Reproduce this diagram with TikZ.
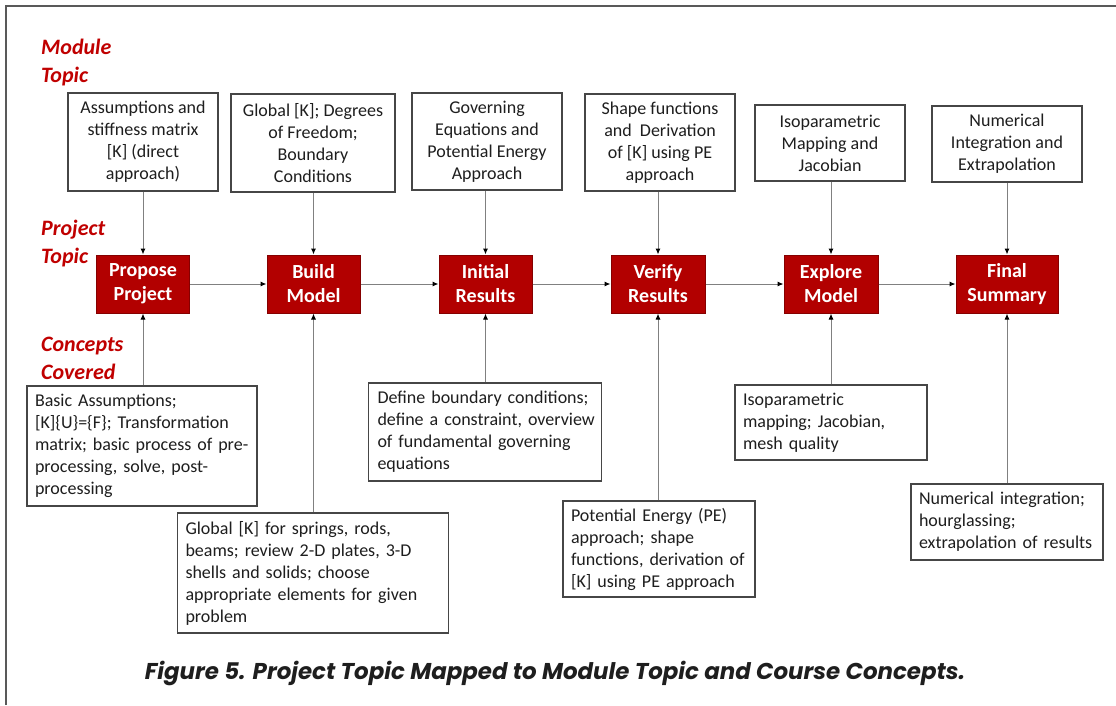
\documentclass[tikz,border=0pt]{standalone}
\usepackage{fontspec}
\setmainfont{Carlito}
\newfontfamily\capfont{Poppins}
\usetikzlibrary{arrows.meta}
\definecolor{boxred}{RGB}{178,0,0}
\definecolor{labred}{RGB}{192,0,0}
\definecolor{linegray}{RGB}{128,128,128}
\definecolor{bordergray}{RGB}{70,70,70}
\definecolor{txt}{RGB}{30,30,30}
\begin{document}
\begin{tikzpicture}[x=1pt,y=-1pt,
  topbox/.style={draw=bordergray, line width=1.2pt, fill=white, align=center, inner sep=0pt, text=txt, font=\fontsize{18}{22}\selectfont},
  botbox/.style={draw=bordergray, line width=1.2pt, fill=white, align=left, inner xsep=8pt, inner ysep=0pt, text=txt, font=\fontsize{18}{22}\selectfont},
  redbox/.style={draw=boxred!75!black, line width=1pt, fill=boxred, text=white, align=center, inner sep=0pt, minimum height=58pt, font=\bfseries\fontsize{20}{24}\selectfont},
  lab/.style={text=labred, align=left, anchor=west, inner sep=0pt, font=\bfseries\itshape\fontsize{22}{28}\selectfont},
  arr/.style={draw=linegray, line width=1pt, -{Latex[length=6pt,width=5pt,black]}},
  con/.style={draw=linegray, line width=1pt}
]
\useasboundingbox (0,0) rectangle (1116,705);
\draw[draw=black!65, line width=1.5pt] (6,705) -- (6,6) -- (1116,6);

% labels
\node[lab] (lmod) at (41,63) {Module\\Topic};
\node[lab] (lproj) at (41,244) {Project\\Topic};
\node[lab] (lconc) at (41,358.5) {Concepts\\Covered};

% red boxes
\node[redbox, minimum width=93pt] (pp) at (143,284) {Propose\\Project};
\node[redbox, minimum width=93pt] (bm) at (313.5,284) {Build\\Model};
\node[redbox, minimum width=93pt] (ir) at (485.5,284) {Initial\\Results};
\node[redbox, minimum width=94pt] (vr) at (658,284) {Verify\\Results};
\node[redbox, minimum width=94pt] (em) at (831,284) {Explore\\Model};
\node[redbox, minimum width=102pt] (fs) at (1007,284) {Final\\Summary};

% top boxes
\node[topbox, minimum width=150pt, minimum height=98pt] (t1) at (143,142) {Assumptions and\\stiffness matrix\\\relax[K] (direct\\approach)};
\node[topbox, minimum width=164pt, minimum height=98pt] (t2) at (313,143) {Global [K]; Degrees\\of Freedom;\\Boundary\\Conditions};
\node[topbox, minimum width=150pt, minimum height=97pt] (t3) at (487,141.5) {Governing\\Equations and\\Potential Energy\\Approach};
\node[topbox, minimum width=150pt, minimum height=97pt] (t4) at (660,142.5) {Shape functions\\and~ Derivation\\of [K] using PE\\approach};
\node[topbox, minimum width=150pt, minimum height=76pt] (t5) at (830,143) {Isoparametric\\Mapping and\\Jacobian};
\node[topbox, minimum width=150pt, minimum height=76pt] (t6) at (1007,144) {Numerical\\Integration and\\Extrapolation};

% bottom boxes
\node[botbox, text width=214pt, minimum height=120pt] (b1) at (142,446) {Basic Assumptions;\\\relax[K]\{U\}=\{F\}; Transformation\\matrix; basic process of pre-\\processing, solve, post-\\processing};
\node[botbox, text width=255pt, minimum height=120pt] (b2) at (313,573) {Global [K] for springs, rods,\\beams; review 2-D plates, 3-D\\shells and solids; choose\\appropriate elements for given\\problem};
\node[botbox, inner xsep=9pt, text width=215pt, minimum height=98pt] (b3) at (485,432) {\mbox{Define boundary conditions;}\\\mbox{define a constraint, overview}\\\mbox{of fundamental governing}\\equations};
\node[botbox, text width=176pt, minimum height=96pt] (b4) at (659,549) {Potential Energy (PE)\\approach; shape\\functions, derivation of\\\relax[K] using PE approach};
\node[botbox, text width=176pt, minimum height=75pt] (b5) at (831,422.5) {Isoparametric\\mapping; Jacobian,\\mesh quality};
\node[botbox, text width=176pt, minimum height=76pt] (b6) at (1007,522) {Numerical integration;\\hourglassing;\\extrapolation of results};

% top connectors
\foreach \a/\b in {t1/pp,t2/bm,t3/ir,t4/vr,t5/em,t6/fs}
  \draw[arr] (\b.north |- \a.south) -- (\b.north);
% bottom connectors
\foreach \a/\b in {b1/pp,b2/bm,b3/ir,b4/vr,b5/em,b6/fs}
  \draw[arr] (\b.south |- \a.north) -- (\b.south);
% horizontal
\draw[arr] (pp) -- (bm);
\draw[arr] (bm) -- (ir);
\draw[arr] (ir) -- (vr);
\draw[arr] (vr) -- (em);
\draw[arr] (em) -- (fs);

% caption
\node[text=txt, font=\capfont\bfseries\itshape\fontsize{22.9}{27}\selectfont] (cap) at (555,673) {Figure 5. Project Topic Mapped to Module Topic and Course Concepts.};
\end{tikzpicture}
\end{document}
